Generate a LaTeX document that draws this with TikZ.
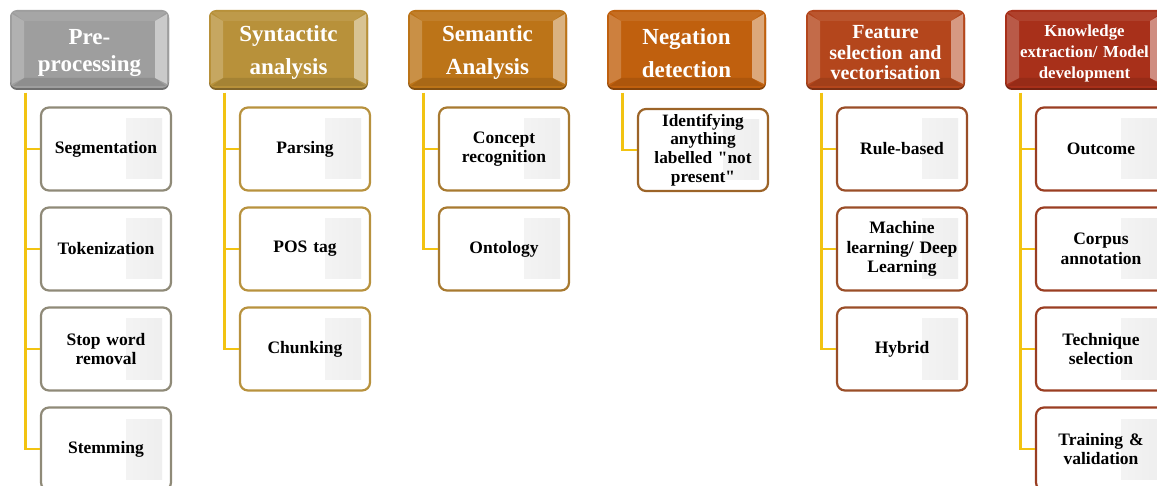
\documentclass[tikz,border=0pt]{standalone}
\usepackage{fontspec}
\setmainfont{Liberation Serif}[Ligatures=TeXOff]
\usetikzlibrary{calc}
\definecolor{c1}{HTML}{9E9E9E}
\definecolor{c2}{HTML}{B8913A}
\definecolor{c3}{HTML}{BC7418}
\definecolor{c4}{HTML}{C0600E}
\definecolor{c5}{HTML}{B4461C}
\definecolor{c6}{HTML}{A8301A}
\definecolor{b1}{HTML}{8F8A78}
\definecolor{b2}{HTML}{B8923E}
\definecolor{b3}{HTML}{A87A30}
\definecolor{b4}{HTML}{9C6428}
\definecolor{b5}{HTML}{9A4E28}
\definecolor{b6}{HTML}{9A3E22}
\definecolor{linecol}{HTML}{F2C311}
\tikzset{
  htext/.style={minimum width=159pt, minimum height=79pt, inner sep=0pt,
    text=white, align=center, text width=154pt},
  childbox/.style={draw=#1, line width=2.2pt, fill=white, rounded corners=8pt,
    minimum width=130pt, minimum height=83pt, text width=124pt, align=center,
    inner sep=0pt, font=\bfseries\fontsize{17.5}{19.5}\selectfont,
    path picture={\shade[sharp corners, left color=white, right color=black!7]
      ($(path picture bounding box.east)+(-45,-30)$) rectangle
      ($(path picture bounding box.east)+(-9,30)$);}},
  conn/.style={draw=linecol, line width=2.8pt}
}
% #1 name, #2 left x, #3 colour, #4 font size, #5 baselineskip, #6 text
\newcommand\hdrbox[6]{%
  \fill[#3!70!black, rounded corners=7pt] (#2,11) rectangle ++(159,79);
  \fill[#3, rounded corners=7pt] (#2,10) rectangle ++(159,78);
  \fill[#3!92!white] (#2+3,12) -- (#2+156,12) -- (#2+145,21) -- (#2+14,21) -- cycle;
  \fill[#3!90!black] (#2+3,86) -- (#2+156,86) -- (#2+145,78) -- (#2+14,78) -- cycle;
  \fill[#3!80!white] (#2+2,14) -- (#2+14,21) -- (#2+14,78) -- (#2+2,84) -- cycle;
  \fill[#3!55!white] (#2+157,14) -- (#2+145,21) -- (#2+145,78) -- (#2+157,84) -- cycle;
  \node[htext, font=\bfseries\fontsize{#4}{#5}\selectfont] (#1) at (#2+79.5,53) {#6};
}
\begin{document}
\begin{tikzpicture}[x=1pt, y=-1pt]
\useasboundingbox (0,0) rectangle (1157,486);
\clip (0,0) rectangle (1157,486);

% headers
\hdrbox{h1}{10}{c1}{23}{27}{Pre-\\processing}
\hdrbox{h2}{209}{c2}{23}{33}{Syntactitc\\analysis}
\hdrbox{h3}{408}{c3}{23}{33}{Semantic\\Analysis}
\hdrbox{h4}{607}{c4}{23}{33}{Negation\\detection}
\hdrbox{h5}{806}{c5}{20}{20.5}{Feature\\selection and\\vectorisation}
\hdrbox{h6}{1005}{c6}{16.8}{21}{Knowledge\\extraction/ Model\\development}

% column 1
\node[childbox=b1] (a1) at (106,149) {Segmentation};
\node[childbox=b1] (a2) at (106,249) {Tokenization};
\node[childbox=b1] (a3) at (106,349) {Stop word\\removal};
\node[childbox=b1] (a4) at (106,449) {Stemming};
% column 2
\node[childbox=b2] (s1) at (305,149) {Parsing};
\node[childbox=b2] (s2) at (305,249) {POS tag};
\node[childbox=b2] (s3) at (305,349) {Chunking};
% column 3
\node[childbox=b3] (m1) at (504,149) {Concept\\recognition};
\node[childbox=b3] (m2) at (504,249) {Ontology};
% column 4
\node[childbox=b4, minimum height=82pt, font=\bfseries\fontsize{17.3}{18.7}\selectfont] (n1) at (703,150) {Identifying\\anything\\labelled "not\\present"};
% column 5
\node[childbox=b5] (f1) at (902,149) {Rule-based};
\node[childbox=b5] (f2) at (902,249) {Machine\\learning/ Deep\\Learning};
\node[childbox=b5] (f3) at (902,349) {Hybrid};
% column 6
\node[childbox=b6] (k1) at (1101,149) {Outcome};
\node[childbox=b6] (k2) at (1101,249) {Corpus\\annotation};
\node[childbox=b6] (k3) at (1101,349) {Technique\\selection};
\node[childbox=b6] (k4) at (1101,449) {Training \&\\validation};

% trunks
\coordinate (t1) at ($(h1.south west)+(16,0)$);
\coordinate (t2) at ($(h2.south west)+(16,0)$);
\coordinate (t3) at ($(h3.south west)+(16,0)$);
\coordinate (t4) at ($(h4.south west)+(16,0)$);
\coordinate (t5) at ($(h5.south west)+(16,0)$);
\coordinate (t6) at ($(h6.south west)+(16,0)$);

\draw[conn] (t1) |- (a4.west);
\draw[conn] (t1|-a1.west) -- (a1.west);
\draw[conn] (t1|-a2.west) -- (a2.west);
\draw[conn] (t1|-a3.west) -- (a3.west);

\draw[conn] (t2) |- (s3.west);
\draw[conn] (t2|-s1.west) -- (s1.west);
\draw[conn] (t2|-s2.west) -- (s2.west);

\draw[conn] (t3) |- (m2.west);
\draw[conn] (t3|-m1.west) -- (m1.west);

\draw[conn] (t4) |- (n1.west);

\draw[conn] (t5) |- (f3.west);
\draw[conn] (t5|-f1.west) -- (f1.west);
\draw[conn] (t5|-f2.west) -- (f2.west);

\draw[conn] (t6) |- (k4.west);
\draw[conn] (t6|-k1.west) -- (k1.west);
\draw[conn] (t6|-k2.west) -- (k2.west);
\draw[conn] (t6|-k3.west) -- (k3.west);
\end{tikzpicture}
\end{document}
